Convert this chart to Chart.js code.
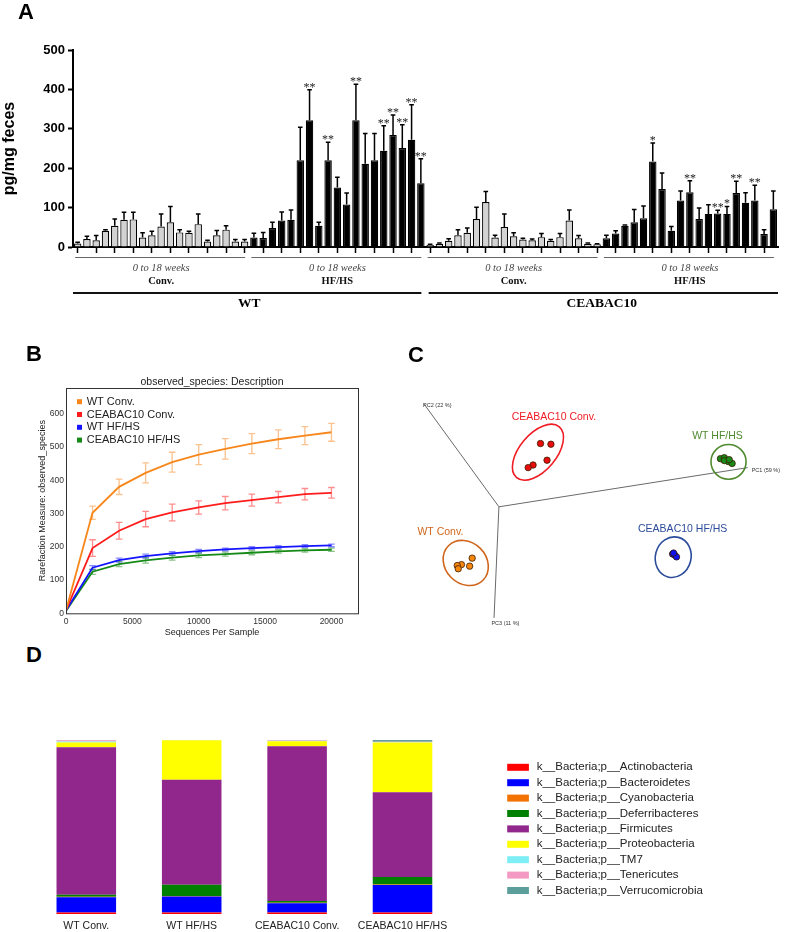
<!DOCTYPE html>
<html>
<head>
<meta charset="utf-8">
<script src="https://cdn.jsdelivr.net/npm/chart.js@4.4.1/dist/chart.umd.min.js"></script>
<style>
  body { margin: 0; background: #fff; width: 787px; height: 932px; position: relative; overflow: hidden; }
  canvas { position: absolute; }
  .tag { position: absolute; font: bold 22px "Liberation Sans", Arial, sans-serif; color: #000; }
</style>
</head>
<body>
<canvas id="chartA" width="787" height="320" style="left:0;top:0"></canvas>
<canvas id="chartB" width="380" height="300" style="left:0;top:340px"></canvas>
<canvas id="chartC" width="397" height="260" style="left:390px;top:380px"></canvas>
<canvas id="chartD" width="787" height="232" style="left:0;top:700px"></canvas>
<div class="tag" style="left:18px;top:-1px">A</div>
<div class="tag" style="left:26px;top:341px">B</div>
<div class="tag" style="left:408px;top:342px">C</div>
<div class="tag" style="left:26px;top:642px">D</div>

<script>
// ---------- panel A data ----------
const aGroups = ['WT Conv.', 'WT HF/HS', 'CEABAC10 Conv.', 'CEABAC10 HF/HS'];
const aDiet = ['Conv.', 'HF/HS', 'Conv.', 'HF/HS'];
const aPeriod = '0 to 18 weeks';
const aStrains = ['WT', 'CEABAC10'];
const aTicks = [0, 100, 200, 300, 400, 500];

const wtConv    = [9, 20, 17, 41, 54, 69, 70, 24, 30, 52, 63, 37, 36, 58, 14, 30, 44, 14, 14];
const wtConvErr = [3, 7, 12, 3, 17, 19, 18, 12, 10, 32, 40, 7, 4, 26, 3, 12, 10, 5, 5];
const wtHf      = [24, 23, 48, 67, 69, 220, 322, 54, 220, 151, 108, 322, 211, 220, 244, 284, 251, 272, 162];
const wtHfErr   = [11, 14, 15, 22, 25, 84, 77, 9, 46, 26, 29, 91, 77, 68, 64, 51, 59, 89, 62];
const ceConv    = [5, 8, 16, 30, 36, 71, 114, 24, 51, 27, 19, 17, 25, 16, 25, 67, 22, 8, 7];
const ceConvErr = [2, 2, 5, 14, 12, 30, 27, 6, 33, 9, 3, 3, 9, 3, 9, 27, 7, 2, 1];
const ceHf      = [22, 34, 54, 63, 73, 217, 147, 41, 118, 139, 71, 84, 85, 84, 137, 112, 118, 33, 96];
const ceHfErr   = [8, 7, 2, 32, 31, 47, 41, 11, 24, 29, 28, 23, 8, 19, 30, 26, 39, 11, 46];
const wtHfStars = ['', '', '', '', '', '', '**', '', '**', '', '', '**', '', '', '**', '**', '**', '**', '**'];
const ceHfStars = ['', '', '', '', '', '*', '', '', '', '**', '', '', '**', '*', '**', '', '**', '', ''];

// ---------- panel B data ----------
const bSeries = ['WT Conv.', 'CEABAC10 Conv.', 'WT HF/HS', 'CEABAC10 HF/HS'];
const bColors = ['#f7861b', '#ff1c1c', '#1414ff', '#168a16'];
const bErrColors = ['rgba(247,134,27,0.5)', 'rgba(255,28,28,0.5)', 'rgba(20,20,255,0.5)', 'rgba(22,138,22,0.5)'];
const bDepth = [10, 2000, 4000, 6000, 8000, 10000, 12000, 14000, 16000, 18000, 20000];
const bWtConv    = [10, 302, 380, 422, 454, 477, 494, 510, 523, 534, 544];
const bWtConvErr = [2, 20, 23, 30, 30, 30, 31, 30, 28, 27, 27];
const bCeConv    = [10, 196, 248, 283, 303, 318, 331, 340, 349, 358, 362];
const bCeConvErr = [2, 25, 25, 23, 25, 20, 20, 18, 17, 17, 16];
const bWtHf      = [9, 137, 160, 172, 180, 187, 192, 196, 199, 202, 204];
const bWtHfErr   = [1, 6, 6, 6, 5, 5, 4, 4, 4, 4, 4];
const bCeHf      = [8, 125, 148, 159, 167, 174, 178, 182, 186, 189, 191];
const bCeHfErr   = [1, 8, 8, 8, 7, 7, 6, 6, 5, 5, 5];
const bXTicks = [0, 5000, 10000, 15000, 20000];
const bYTicks = [0, 100, 200, 300, 400, 500, 600];

// ---------- panel C data (projected PCoA coordinates) ----------
const cOrigin = {x: 0, y: 0};
const cAxisEnds = [{x: 255, y: 40.7}, {x: -76.7, y: 106.7}, {x: -5, y: -115.3}];
const cAxisNames = ['PC1 (59 %)', 'PC2 (22 %)', 'PC3 (11 %)'];
const cAxisLabelPos = [{x: 259, y: 37.4}, {x: -77.7, y: 105}, {x: -7.7, y: -121.3}];
const cGroups = ['WT Conv.', 'CEABAC10 Conv.', 'WT HF/HS', 'CEABAC10 HF/HS'];
const cPointColors = ['#f5870f', '#e80e0e', '#1a8a1a', '#1010f0'];
const cLineColors = ['#d0661c', '#f01c24', '#4f8a2e', '#2b4c9b'];
const cWtConv = [{x: -27.4, y: -53.3}, {x: -38.4, y: -60}, {x: -42.7, y: -61}, {x: -41.7, y: -64.3}, {x: -30, y: -61.6}];
const cCeConv = [{x: 42.6, y: 65.7}, {x: 53.3, y: 65}, {x: 49.3, y: 48.4}, {x: 35, y: 43.4}, {x: 30, y: 40.7}];
const cWtHf = [{x: 227, y: 50}, {x: 231, y: 51}, {x: 235, y: 47}, {x: 239, y: 45}, {x: 231, y: 48}, {x: 236, y: 49}];
const cCeHf = [{x: 178, y: -49}, {x: 180, y: -50}, {x: 182, y: -52}, {x: 179, y: -48}];
// ellipse: centre x, centre y, semi-axis a, semi-axis b, angle (deg)
const cEllipses = [[-34, -58.3, 25, 21.4, -45], [40, 56.7, 34, 19, 50], [235.3, 46.7, 18, 18, 0], [178.6, -52.3, 21, 18.5, 75]];
const cLabelPos = [{x: -60, y: -26.6}, {x: 56.3, y: 92.7}, {x: 224, y: 73.4}, {x: 188.3, y: -23.3}];

// ---------- panel D data ----------
const dSamples = ['WT Conv.', 'WT HF/HS', 'CEABAC10 Conv.', 'CEABAC10 HF/HS'];
const dPhyla = ['k__Bacteria;p__Actinobacteria', 'k__Bacteria;p__Bacteroidetes', 'k__Bacteria;p__Cyanobacteria',
  'k__Bacteria;p__Deferribacteres', 'k__Bacteria;p__Firmicutes', 'k__Bacteria;p__Proteobacteria',
  'k__Bacteria;p__TM7', 'k__Bacteria;p__Tenericutes', 'k__Bacteria;p__Verrucomicrobia'];
const dColors = ['#ff0000', '#0000ff', '#f27304', '#008000', '#91278d', '#ffff00', '#7deef5', '#f49ac2', '#5b9e9b'];
const actino        = [0.8, 0.8, 0.8, 0.8];
const bacteroidetes = [8.8, 9.2, 5.4, 15.9];
const cyano         = [0.3, 0.3, 0.2, 0.2];
const deferri       = [1.1, 6.5, 1.1, 4.4];
const firmicutes    = [84.8, 60.3, 88.9, 48.7];
const proteo        = [2.8, 22.8, 2.9, 28.5];
const tm7           = [0.5, 0.05, 0.3, 0.2];
const teneric       = [0.8, 0.05, 0.4, 0.3];
const verruco       = [0.1, 0, 0, 1.0];

const sans = '"Liberation Sans", Arial, sans-serif';
const serif = '"Liberation Serif", "Times New Roman", serif';

// ================= A =================
const aSets = [[wtConv, wtConvErr], [wtHf, wtHfErr], [ceConv, ceConvErr], [ceHf, ceHfErr]];
const aValues = [], aErrors = [], aGroupIdx = [], aLabels = [], aStars = [];
const aStarSets = [null, wtHfStars, null, ceHfStars];
aSets.forEach(([vals, errs], g) => {
  vals.forEach((v, k) => {
    aValues.push(v);
    aErrors.push(errs[k]);
    aGroupIdx.push(g);
    aLabels.push(aGroups[g] + ' ' + (k + 1));
    aStars.push(aStarSets[g] ? aStarSets[g][k] : '');
  });
});

const aExtras = {
  id: 'aExtras',
  afterDatasetsDraw(chart) {
    const {ctx, scales: {x, y}} = chart;
    ctx.save();
    ctx.strokeStyle = '#000';
    ctx.lineWidth = 1.5;
    aValues.forEach((v, i) => {
      const px = x.getPixelForValue(i);
      const y0 = y.getPixelForValue(v);
      const y1 = y.getPixelForValue(v + aErrors[i]);
      ctx.beginPath();
      ctx.moveTo(px, y0); ctx.lineTo(px, y1);
      ctx.moveTo(px - 2.3, y1); ctx.lineTo(px + 2.3, y1);
      ctx.stroke();
      if (aStars[i]) {
        ctx.fillStyle = '#222';
        ctx.font = '12px ' + serif;
        ctx.textAlign = 'center';
        ctx.textBaseline = 'alphabetic';
        ctx.fillText(aStars[i], px, y1 + 1);
      }
    });

    // group bands under the axis
    const groupRange = g => {
      const first = aGroupIdx.indexOf(g), last = aGroupIdx.lastIndexOf(g);
      return [x.getPixelForValue(first), x.getPixelForValue(last)];
    };
    ctx.textAlign = 'center';
    ctx.textBaseline = 'middle';
    aGroups.forEach((name, g) => {
      const [x0, x1] = groupRange(g);
      ctx.strokeStyle = '#666';
      ctx.lineWidth = 1;
      ctx.beginPath(); ctx.moveTo(x0 - 2.5, 257.5); ctx.lineTo(x1 + 0.5, 257.5); ctx.stroke();
      const cx = (x0 + x1) / 2;
      ctx.fillStyle = '#444';
      ctx.font = 'italic 10.5px ' + serif;
      ctx.fillText(aPeriod, cx, 268);
      ctx.fillStyle = '#111';
      ctx.font = 'bold 10.5px ' + serif;
      ctx.fillText(aDiet[g], cx, 281);
    });
    aStrains.forEach((name, s) => {
      const a = groupRange(2 * s), b = groupRange(2 * s + 1);
      const x0 = s === 0 ? x.left : a[0] - 1.5;
      const x1 = s === 0 ? b[1] + 0.5 : x.right;
      ctx.strokeStyle = '#111';
      ctx.lineWidth = 2;
      ctx.beginPath(); ctx.moveTo(x0, 293); ctx.lineTo(x1, 293); ctx.stroke();
      ctx.fillStyle = '#000';
      ctx.font = 'bold 13.5px ' + serif;
      ctx.fillText(name, (a[0] + b[1]) / 2, 304);
    });
    ctx.restore();
  }
};

new Chart(document.getElementById('chartA'), {
  type: 'bar',
  data: {
    labels: aLabels,
    datasets: [{
      data: aValues,
      backgroundColor: c => (aGroupIdx[c.dataIndex] % 2 === 1 ? '#000' : '#d3d3d3'),
      borderColor: '#000',
      borderWidth: 1.2,
      barPercentage: 0.8,
      categoryPercentage: 1
    }]
  },
  options: {
    responsive: false,
    animation: false,
    layout: {padding: {left: 0, top: 50, right: 9, bottom: 67}},
    plugins: {legend: {display: false}, tooltip: {enabled: false}},
    scales: {
      x: {
        grid: {
          display: true, drawOnChartArea: false, drawTicks: true, tickLength: 6, offset: false,
          tickWidth: 1.5, tickColor: c => (c.index % 2 === 0 ? '#000' : 'rgba(0,0,0,0)')
        },
        border: {color: '#000', width: 2},
        ticks: {display: false},
        afterFit: s => { s.height = 6; }
      },
      y: {
        min: 0, max: 500,
        afterBuildTicks: s => { s.ticks = aTicks.map(v => ({value: v})); },
        grid: {drawOnChartArea: false, tickLength: 5, tickColor: '#000', tickWidth: 2},
        border: {color: '#000', width: 2},
        ticks: {color: '#000', padding: 3, font: {family: sans, size: 13, weight: 'bold'}, callback: v => String(v)},
        title: {display: true, text: 'pg/mg feces', color: '#000', padding: 0, font: {family: sans, size: 16, weight: 'bold'}},
        afterFit: s => { s.width = 73; }
      }
    }
  },
  plugins: [aExtras]
});

// ================= B =================
const bMeans = [bWtConv, bCeConv, bWtHf, bCeHf];
const bErrs = [bWtConvErr, bCeConvErr, bWtHfErr, bCeHfErr];

const bExtras = {
  id: 'bExtras',
  beforeDatasetsDraw(chart) {
    const {ctx, scales: {x, y}} = chart;
    ctx.save();
    ctx.lineWidth = 1.3;
    bMeans.forEach((vals, k) => {
      ctx.strokeStyle = bErrColors[k];
      vals.forEach((v, i) => {
        if (i === 0) return;
        const px = x.getPixelForValue(bDepth[i]);
        const lo = y.getPixelForValue(v - bErrs[k][i]);
        const hi = y.getPixelForValue(v + bErrs[k][i]);
        ctx.beginPath();
        ctx.moveTo(px, lo); ctx.lineTo(px, hi);
        ctx.moveTo(px - 3.3, lo); ctx.lineTo(px + 3.3, lo);
        ctx.moveTo(px - 3.3, hi); ctx.lineTo(px + 3.3, hi);
        ctx.stroke();
      });
    });
    ctx.restore();
  },
  afterDraw(chart) {
    const {ctx, chartArea: a} = chart;
    ctx.save();
    ctx.strokeStyle = '#333';
    ctx.lineWidth = 1;
    ctx.strokeRect(a.left + 0.5, a.top + 0.5, a.right - a.left, a.bottom - a.top);
    ctx.fillStyle = '#222';
    ctx.font = '10.5px ' + sans;
    ctx.textAlign = 'center';
    ctx.textBaseline = 'middle';
    ctx.fillText('observed_species: Description', (a.left + a.right) / 2, a.top - 6);
    ctx.textAlign = 'left';
    ctx.font = '11px ' + sans;
    bSeries.forEach((name, k) => {
      const yy = a.top + 13.7 + k * 12.8;
      ctx.fillStyle = bColors[k];
      ctx.fillRect(a.left + 11, yy - 2.5, 5, 5);
      ctx.fillStyle = '#222';
      ctx.fillText(name, a.left + 20.7, yy);
    });
    ctx.restore();
  }
};

new Chart(document.getElementById('chartB'), {
  type: 'line',
  data: {
    datasets: bSeries.map((name, k) => ({
      label: name,
      data: bDepth.map((d, i) => ({x: d, y: bMeans[k][i]})),
      borderColor: bColors[k],
      borderWidth: 1.8,
      pointRadius: 0,
      tension: 0,
      fill: false
    }))
  },
  options: {
    responsive: false,
    animation: false,
    layout: {padding: {left: 33, top: 48, right: 22, bottom: 0}},
    plugins: {legend: {display: false}, tooltip: {enabled: false}},
    scales: {
      x: {
        type: 'linear', min: 0, max: 22000,
        afterBuildTicks: s => { s.ticks = bXTicks.map(v => ({value: v})); },
        grid: {display: false, drawTicks: false},
        border: {display: false},
        ticks: {color: '#333', padding: 3, maxRotation: 0, font: {family: sans, size: 8.5}, callback: v => String(v)},
        title: {display: true, text: 'Sequences Per Sample', color: '#222', padding: {top: 0, bottom: 2}, font: {family: sans, size: 9}},
        afterFit: s => { s.height = 26.7; }
      },
      y: {
        min: 0, max: 677,
        afterBuildTicks: s => { s.ticks = bYTicks.map(v => ({value: v})); },
        grid: {display: false, drawTicks: false},
        border: {display: false},
        ticks: {color: '#333', padding: 2, font: {family: sans, size: 8.5}, callback: v => String(v)},
        title: {display: true, text: 'Rarefaction Measure: observed_species', color: '#222', padding: {top: 4, bottom: 0}, font: {family: sans, size: 9}},
        afterFit: s => { s.width = 33; }
      }
    }
  },
  plugins: [bExtras]
});

// ================= C =================
const cPoints = [cWtConv, cCeConv, cWtHf, cCeHf];

const cExtras = {
  id: 'cExtras',
  afterDatasetsDraw(chart) {
    const {ctx, scales: {x, y}} = chart;
    const sx = x.getPixelForValue(1) - x.getPixelForValue(0);
    const sy = y.getPixelForValue(0) - y.getPixelForValue(1);
    ctx.save();
    cEllipses.forEach((e, k) => {
      ctx.strokeStyle = cLineColors[k];
      ctx.lineWidth = 1.6;
      ctx.beginPath();
      ctx.ellipse(x.getPixelForValue(e[0]), y.getPixelForValue(e[1]), e[2] * sx, e[3] * sy, -e[4] * Math.PI / 180, 0, Math.PI * 2);
      ctx.stroke();
      ctx.fillStyle = cLineColors[k];
      ctx.font = '10.5px ' + sans;
      ctx.textAlign = 'center';
      ctx.textBaseline = 'middle';
      ctx.fillText(cGroups[k], x.getPixelForValue(cLabelPos[k].x), y.getPixelForValue(cLabelPos[k].y));
    });
    ctx.fillStyle = '#333';
    ctx.font = '5.5px ' + sans;
    ctx.textAlign = 'left';
    cAxisNames.forEach((n, k) => {
      ctx.fillText(n, x.getPixelForValue(cAxisLabelPos[k].x), y.getPixelForValue(cAxisLabelPos[k].y));
    });
    ctx.restore();
  }
};

new Chart(document.getElementById('chartC'), {
  type: 'scatter',
  data: {
    datasets: [
      ...cAxisEnds.map(end => ({
        data: [cOrigin, end], showLine: true, borderColor: '#6a6a6a', borderWidth: 1, pointRadius: 0, order: 2
      })),
      ...cPoints.map((pts, k) => ({
        label: cGroups[k], data: pts, backgroundColor: cPointColors[k], borderColor: '#3a1a00',
        borderWidth: 0.8, pointRadius: 3.2, order: 1
      }))
    ]
  },
  options: {
    responsive: false,
    animation: false,
    layout: {padding: 0},
    plugins: {legend: {display: false}, tooltip: {enabled: false}},
    scales: {
      x: {type: 'linear', display: false, min: -106.7, max: 290.3},
      y: {type: 'linear', display: false, min: -133.3, max: 126.7}
    }
  },
  plugins: [cExtras]
});

// ================= D =================
const dShares = [actino, bacteroidetes, cyano, deferri, firmicutes, proteo, tm7, teneric, verruco];

const dLegend = {
  id: 'dLegend',
  afterDraw(chart) {
    const {ctx, chartArea: a} = chart;
    ctx.save();
    ctx.font = '11.5px ' + sans;
    ctx.textAlign = 'left';
    ctx.textBaseline = 'middle';
    dPhyla.forEach((p, k) => {
      const yy = a.top + 27.3 + k * 15.4;
      ctx.fillStyle = dColors[k];
      ctx.fillRect(a.right + 52, yy - 3.5, 21.7, 7);
      ctx.fillStyle = '#222';
      ctx.fillText(p, a.right + 81.5, yy);
    });
    ctx.restore();
  }
};

new Chart(document.getElementById('chartD'), {
  type: 'bar',
  data: {
    labels: dSamples,
    datasets: dPhyla.map((p, k) => ({
      label: p, data: dShares[k], backgroundColor: dColors[k], borderWidth: 0,
      barPercentage: 0.565, categoryPercentage: 1
    }))
  },
  options: {
    responsive: false,
    animation: false,
    layout: {padding: {left: 33.6, top: 40, right: 331.8, bottom: 0}},
    plugins: {legend: {display: false}, tooltip: {enabled: false}},
    scales: {
      x: {
        stacked: true,
        grid: {display: false, drawTicks: false},
        border: {display: false},
        ticks: {color: '#222', padding: 6, maxRotation: 0, autoSkip: false, font: {family: sans, size: 10.5}},
        afterFit: s => { s.height = 18; }
      },
      y: {stacked: true, display: false, min: 0, max: 100}
    }
  },
  plugins: [dLegend]
});
</script>
</body>
</html>
